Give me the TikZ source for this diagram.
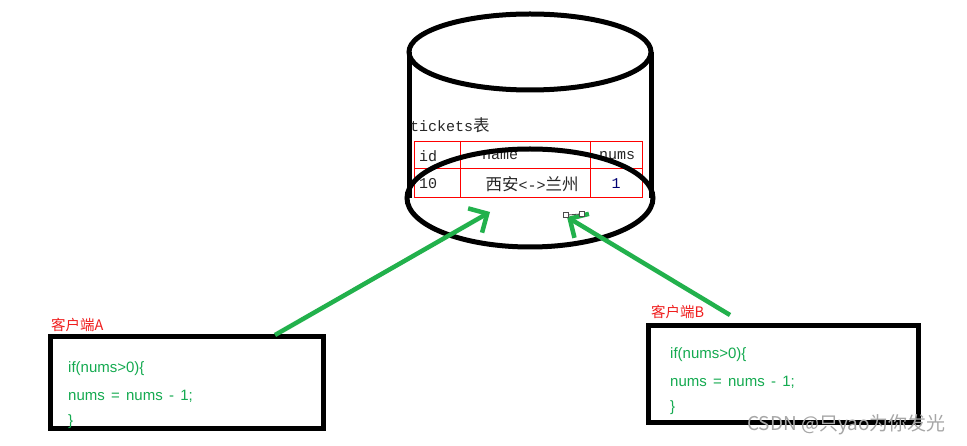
\documentclass[tikz,border=0pt]{standalone}
\usepackage{fontspec}
\setmainfont{Liberation Serif}
\newfontfamily\cjk{Noto Sans CJK SC}
\newfontfamily\codefont[WordSpace=1.5]{Liberation Sans}
\newfontfamily\monofont{Liberation Mono}
\usetikzlibrary{arrows.meta}
\definecolor{arrgreen}{RGB}{34,177,76}
\definecolor{codegreen}{RGB}{20,170,80}
\definecolor{lblred}{RGB}{240,30,30}
\tikzset{
  thickline/.style={line width=5pt, draw=black},
  tblline/.style={draw=red, line width=0.8pt},
  tbltext/.style={font=\monofont\fontsize{15}{18}\selectfont, text=black!85, inner sep=0pt},
  codetext/.style={font=\codefont\fontsize{15}{17}\selectfont, text=codegreen, anchor=west, inner sep=0pt},
  lbl/.style={font=\cjk\fontsize{14.5}{16}\selectfont, text=lblred, anchor=west, inner sep=0pt},
  garrow/.style={draw=arrgreen, line width=4.5pt, -{Straight Barb[length=14pt,width=28pt,line width=4.5pt]}},
  handle/.style={draw=black!70, fill=white, line width=0.8pt},
}
\begin{document}
\begin{tikzpicture}[x=1pt,y=-1pt]
\useasboundingbox (0,0) rectangle (967,446);
\fill[white] (0,0) rectangle (967,446);
% cylinder
\draw[thickline] (530,52) ellipse [x radius=121, y radius=38];
\draw[thickline] (409,52) -- (409,198);
\draw[thickline] (651,52) -- (651,198);
% table
\node[tbltext, anchor=west] (title) at (410,125) {tickets{\cjk\fontsize{16.5}{18}\selectfont 表}};
\draw[tblline] (414,141) rectangle (642,197);
\draw[tblline] (414,168) -- (642,168);
\draw[tblline] (460,141) -- (460,197);
\draw[tblline] (590,141) -- (590,197);
\node[tbltext] (hid) at (428,156) {id};
\node[tbltext] (hname) at (500,156) {name};
\node[tbltext] (hnums) at (617,156) {nums};
\node[tbltext] (vid) at (428,184) {10};
\node[tbltext] (vname) at (532,184) {{\cjk\fontsize{16.5}{18}\selectfont 西安}<->{\cjk\fontsize{16.5}{18}\selectfont 兰州}};
\node[tbltext, text=blue!45!black] (vnums) at (616,184) {1};
% bottom ellipse drawn over table
\draw[thickline] (530,198) ellipse [x radius=123, y radius=49];
\coordinate (tA) at (490,212);
\coordinate (tB) at (567,217);
% boxes
\node[lbl] (la) at (51,325) {客户端A};
\node[lbl] (lb) at (651,312) {客户端B};
\draw[thickline] (50,337) rectangle (323,428);
\draw[thickline] (648,326) rectangle (918,422);
\coordinate (sA) at (275,335);
\coordinate (sB) at (730,315);
\node[codetext] (a1) at (68,369) {if(nums>0)\{};
\node[codetext] (a2) at (68,396) {nums = nums - 1;};
\node[codetext] (a3) at (68,422) {\}};
\node[codetext] (b1) at (670,355) {if(nums>0)\{};
\node[codetext] (b2) at (670,382) {nums = nums - 1;};
\node[codetext] (b3) at (670,408) {\}};
% arrows
\draw[garrow] (sA) -- (tA);
\draw[garrow] (sB) -- (tB);
% selection handles on arrow B
\draw[black!70, line width=0.8pt] (568,215) -- (580,214);
\draw[handle] (563.5,212.5) rectangle (568.5,217.5);
\draw[handle] (579.5,211.5) rectangle (584.5,216.5);
% watermark
\node[font=\cjk\fontsize{19}{20}\selectfont, text=black!35, anchor=west, inner sep=0pt] (wm) at (747,425) {CSDN @只yao为你发光};
\end{tikzpicture}
\end{document}
